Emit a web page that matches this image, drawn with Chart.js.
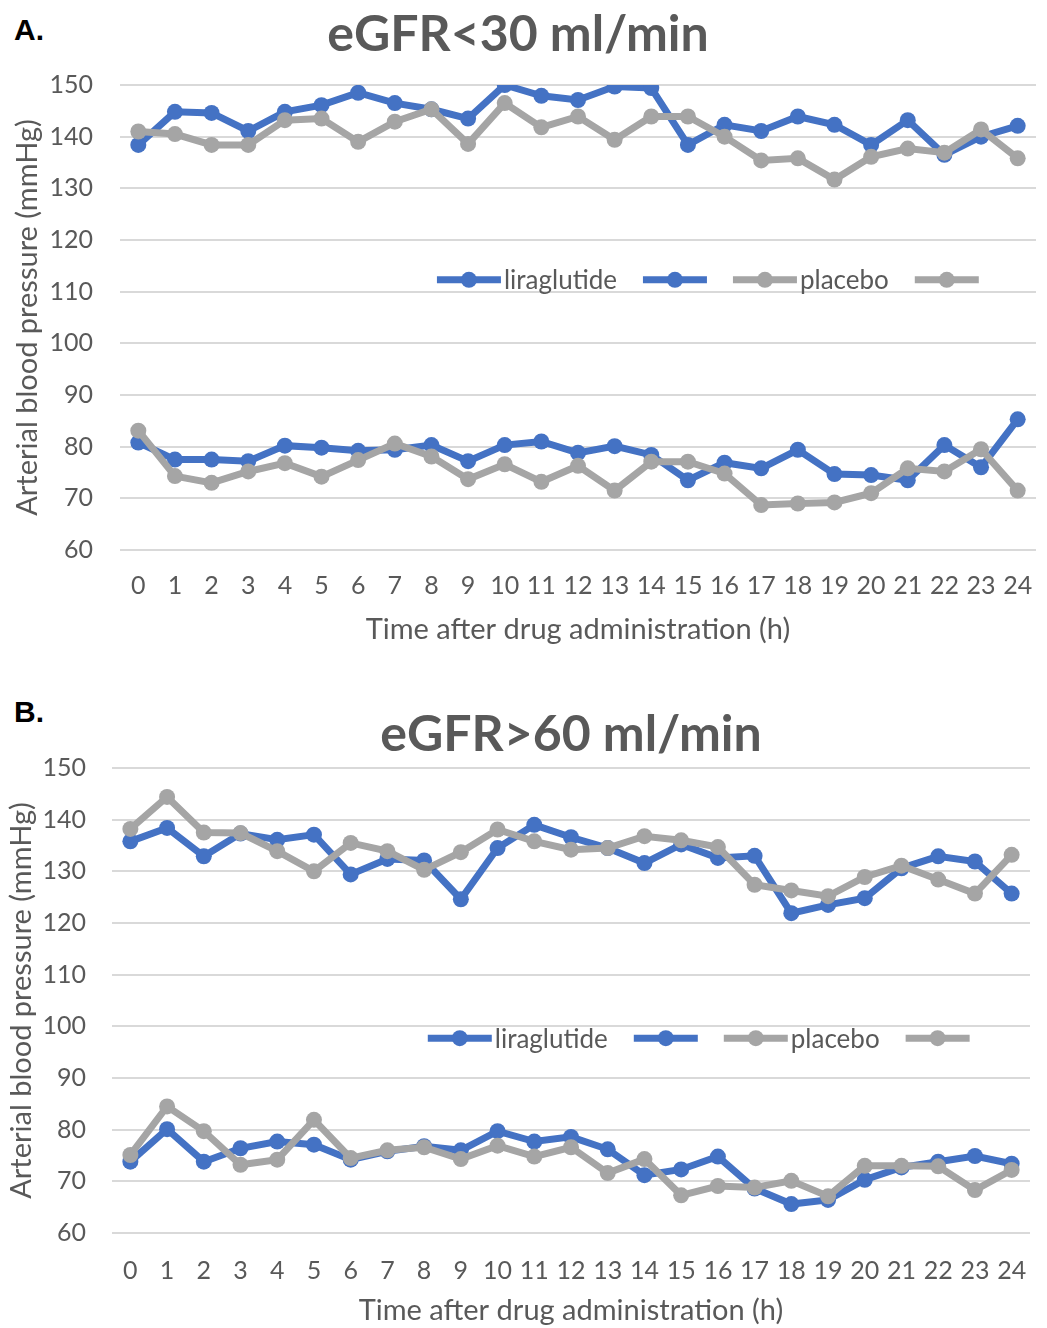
<!DOCTYPE html>
<html>
<head>
<meta charset="utf-8">
<title>Arterial blood pressure after liraglutide</title>
<script src="https://cdn.jsdelivr.net/npm/chart.js@4.4.1/dist/chart.umd.min.js"></script>
<style>
  body { margin: 0; background: #fff; width: 1047px; height: 1328px; overflow: hidden; position: relative; }
  canvas { position: absolute; left: 0; }
  #chartA { top: 0; }
  #chartB { top: 685px; }
  .tag { position: absolute; left: 14px; font: bold 30px "Liberation Sans Narrow", "Liberation Sans", Arial, sans-serif; color: #000; }
</style>
</head>
<body>
<div class="tag" style="top:13px">A.</div>
<div class="tag" style="top:695px">B.</div>
<canvas id="chartA" width="1047" height="660"></canvas>
<canvas id="chartB" width="1047" height="643"></canvas>
<script>
'use strict';

// Hours after administration
var hours = ['0','1','2','3','4','5','6','7','8','9','10','11','12','13','14','15','16','17','18','19','20','21','22','23','24'];
var yMin = 60, yMax = 150, yStep = 10;

// A. eGFR<30 ml/min
var liraSysA  = [138.4, 144.8, 144.6, 141.1, 144.8, 146.1, 148.5, 146.5, 145.3, 143.5, 150.0, 147.9, 147.1, 149.7, 149.4, 138.4, 142.3, 141.1, 143.9, 142.3, 138.4, 143.2, 136.5, 140.0, 142.1];
var liraDiaA  = [80.8, 77.5, 77.5, 77.2, 80.2, 79.8, 79.2, 79.4, 80.3, 77.2, 80.3, 81.0, 78.8, 80.1, 78.4, 73.5, 76.9, 75.8, 79.4, 74.7, 74.5, 73.5, 80.3, 76.0, 85.3];
var placSysA  = [141.0, 140.5, 138.4, 138.4, 143.2, 143.5, 139.0, 142.9, 145.3, 138.6, 146.5, 141.8, 143.9, 139.4, 143.9, 143.9, 140.0, 135.4, 135.8, 131.7, 136.1, 137.7, 136.9, 141.4, 135.8];
var placDiaA  = [83.1, 74.3, 73.0, 75.2, 76.8, 74.2, 77.4, 80.6, 78.1, 73.7, 76.6, 73.2, 76.3, 71.5, 77.1, 77.1, 74.8, 68.7, 69.0, 69.2, 71.0, 75.8, 75.2, 79.5, 71.5];

// B. eGFR>60 ml/min
var liraSysB  = [135.8, 138.4, 132.9, 137.3, 136.1, 137.1, 129.4, 132.4, 132.1, 124.6, 134.5, 139.0, 136.6, 134.5, 131.6, 135.2, 132.6, 133.0, 121.9, 123.5, 124.8, 130.6, 132.9, 131.9, 125.7];
var liraDiaB  = [73.8, 80.1, 73.8, 76.4, 77.7, 77.1, 74.2, 75.8, 76.8, 76.0, 79.7, 77.7, 78.6, 76.2, 71.2, 72.3, 74.8, 68.6, 65.6, 66.4, 70.3, 72.7, 73.8, 74.9, 73.4];
var placSysB  = [138.2, 144.4, 137.5, 137.4, 133.9, 130.0, 135.5, 133.9, 130.3, 133.7, 138.1, 135.8, 134.2, 134.5, 136.8, 136.0, 134.7, 127.4, 126.3, 125.2, 128.9, 131.1, 128.4, 125.7, 133.2];
var placDiaB  = [75.1, 84.5, 79.7, 73.2, 74.2, 81.9, 74.5, 76.0, 76.6, 74.3, 76.9, 74.8, 76.6, 71.6, 74.3, 67.3, 69.1, 68.8, 70.1, 67.1, 73.0, 73.0, 72.9, 68.3, 72.2];

var BLUE = '#4472C4', GREY = '#A5A5A5', TEXT = '#595959', GRID = '#D9D9D9';
var FONT = 'Lato, "Open Sans", sans-serif';

// Excel-style legend sitting inside the plot
var innerLegend = {
  id: 'innerLegend',
  afterDatasetsDraw: function(chart, args, opts) {
    var ctx = chart.ctx, area = chart.chartArea;
    var x = area.left + opts.x * (area.right - area.left);
    var y = area.top + opts.y * (area.bottom - area.top);
    ctx.save();
    ctx.font = '26px ' + FONT;
    ctx.textBaseline = 'middle';
    ctx.textAlign = 'left';
    chart.data.datasets.forEach(function(ds) {
      ctx.strokeStyle = ds.borderColor;
      ctx.fillStyle = ds.backgroundColor;
      ctx.lineWidth = 7;
      ctx.beginPath();
      ctx.moveTo(x, y);
      ctx.lineTo(x + 64, y);
      ctx.stroke();
      ctx.beginPath();
      ctx.arc(x + 32, y, 8, 0, Math.PI * 2);
      ctx.fill();
      x += 64;
      if (ds.label) {
        ctx.fillStyle = TEXT;
        ctx.fillText(ds.label, x + 3, y + 1);
        x += 3 + ctx.measureText(ds.label).width;
      }
      x += 26;
    });
    ctx.restore();
  }
};

function series(label, data, color, order) {
  return {
    label: label, data: data,
    borderColor: color, backgroundColor: color,
    borderWidth: 7, pointRadius: 8, pointBorderWidth: 0,
    pointBackgroundColor: color, tension: 0, order: order
  };
}

function makeChart(id, cfg) {
  return new Chart(document.getElementById(id), {
    type: 'line',
    data: {
      labels: hours,
      datasets: [
        series('liraglutide', cfg.liraSys, BLUE, 2),
        series('', cfg.liraDia, BLUE, 2),
        series('placebo', cfg.placSys, GREY, 1),
        series('', cfg.placDia, GREY, 1)
      ]
    },
    options: {
      responsive: false, animation: false,
      layout: { padding: { left: 0, right: cfg.padRight, top: 0, bottom: 0 } },
      plugins: {
        legend: { display: false },
        tooltip: { enabled: false },
        title: {
          display: true, text: cfg.title, color: TEXT, fullSize: cfg.fullTitle,
          font: { family: FONT, size: 50, weight: 'bold', lineHeight: 1.2 },
          padding: cfg.titlePad
        },
        innerLegend: cfg.legend
      },
      scales: {
        x: {
          offset: true,
          grid: { display: false },
          border: { display: false },
          ticks: { color: TEXT, font: { family: FONT, size: 25 }, padding: cfg.xTickPad, maxRotation: 0, autoSkip: false },
          title: { display: true, text: 'Time after drug administration (h)', color: TEXT,
                   font: { family: FONT, size: 29, lineHeight: 1.2 }, padding: { top: 0, bottom: cfg.xTitlePad } },
          afterFit: function(s) { s.height = cfg.xHeight; }
        },
        y: {
          min: yMin, max: yMax,
          grid: { color: GRID, lineWidth: 2, drawTicks: false },
          border: { display: false },
          ticks: { stepSize: yStep, color: TEXT, font: { family: FONT, size: 25 }, padding: cfg.yTickPad },
          title: { display: true, text: 'Arterial blood pressure (mmHg)', color: TEXT,
                   font: { family: FONT, size: 29, lineHeight: 1.2 }, padding: { top: cfg.yTitlePad, bottom: 0 } },
          afterFit: function(s) { s.width = cfg.yWidth; }
        }
      }
    },
    plugins: [innerLegend]
  });
}

makeChart('chartA', {
  title: 'eGFR<30 ml/min', fullTitle: true, titlePad: { top: 5, bottom: 20 },
  liraSys: liraSysA, liraDia: liraDiaA, placSys: placSysA, placDia: placDiaA,
  padRight: 11, yWidth: 120, yTickPad: 27, yTitlePad: 10,
  xHeight: 110, xTickPad: 13, xTitlePad: 13,
  legend: { x: 0.346, y: 0.419 }
});

makeChart('chartB', {
  title: 'eGFR>60 ml/min', fullTitle: false, titlePad: { top: 20, bottom: 3 },
  liraSys: liraSysB, liraDia: liraDiaB, placSys: placSysB, placDia: placDiaB,
  padRight: 17, yWidth: 112, yTickPad: 26, yTitlePad: 4,
  xHeight: 95, xTickPad: 15, xTitlePad: 0,
  legend: { x: 0.344, y: 0.581 }
});
</script>
</body>
</html>
